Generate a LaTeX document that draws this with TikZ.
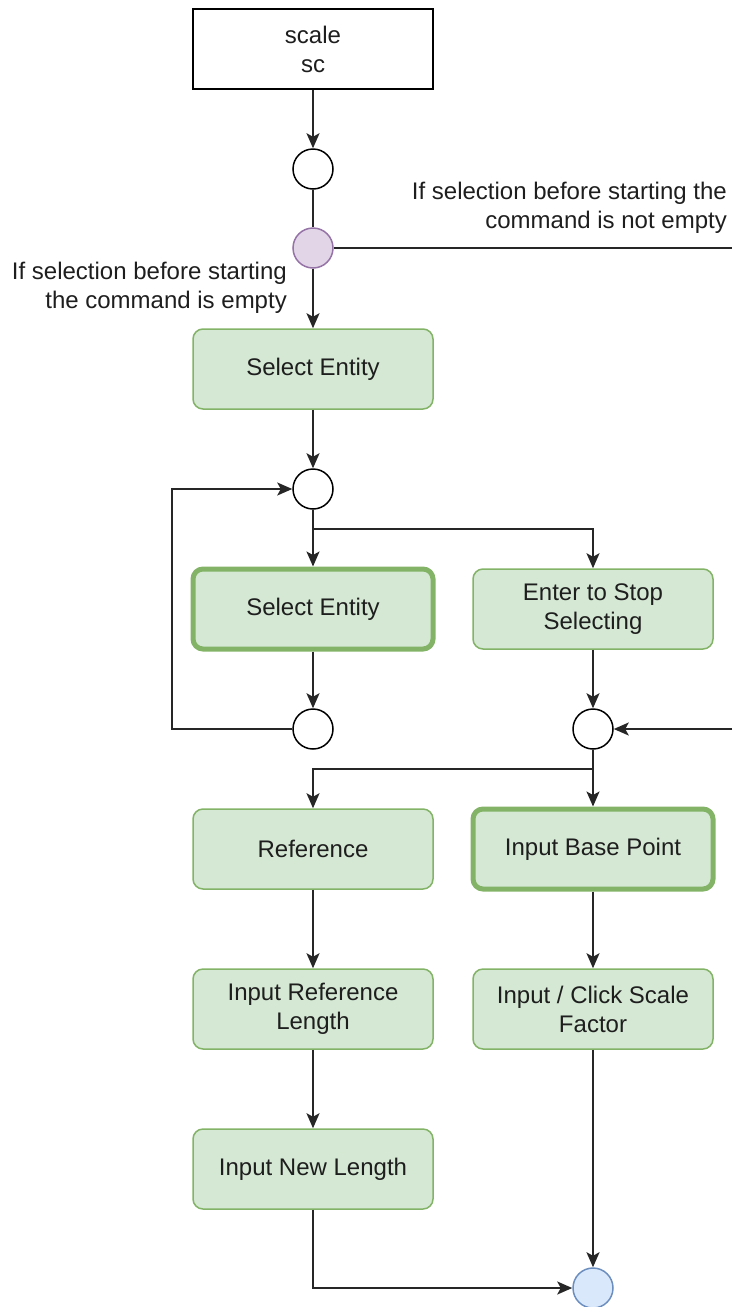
\documentclass[tikz,border=0pt]{standalone}
\usepackage{fontspec}
\setmainfont{Liberation Sans}
\usetikzlibrary{arrows.meta}
\definecolor{gfill}{HTML}{D5E8D4}
\definecolor{gdraw}{HTML}{82B366}
\definecolor{pfill}{HTML}{E1D5E7}
\definecolor{pdraw}{HTML}{9673A6}
\definecolor{bfill}{HTML}{DAE8FC}
\definecolor{bdraw}{HTML}{6C8EBF}
\definecolor{txt}{HTML}{1E1E1E}
\tikzset{
  every node/.style={font=\fontsize{24}{29}\selectfont, text=txt},
  startbox/.style={draw=black, line width=1.5pt, fill=white, minimum width=240pt, minimum height=80pt, align=center, inner sep=0pt},
  actbox/.style={draw=gdraw, line width=1.5pt, fill=gfill, rounded corners=10pt, minimum width=240pt, minimum height=80pt, align=center, inner sep=0pt},
  actthick/.style={actbox, line width=5pt},
  junc/.style={circle, draw=black, line width=1.5pt, fill=white, minimum size=40pt, inner sep=0pt},
  juncp/.style={junc, draw=pdraw, fill=pfill},
  juncb/.style={junc, draw=bdraw, fill=bfill},
  conn/.style={draw=black!85, line width=1.8pt},
  arr/.style={conn, -{Stealth[length=15pt,width=13pt,inset=3.5pt]}},
  lbl/.style={align=right, inner sep=0pt}
}
\begin{document}
\begin{tikzpicture}[x=1pt,y=1pt]
\useasboundingbox (0,0) rectangle (732,-1307);
% nodes
\node[startbox] (start) at (313,-49) {scale\\sc};
\node[junc] (c1) at (313,-169) {};
\node[juncp] (cp) at (313,-248) {};
\node[lbl, anchor=east] (lnot) at (727,-208) {If selection before starting the\\command is not empty};
\node[lbl, anchor=east] (lemp) at (287,-288) {If selection before starting\\the command is empty};
\node[actbox] (se1) at (313,-369) {Select Entity};
\node[junc] (c2) at (313,-489) {};
\node[actthick] (se2) at (313,-609) {Select Entity};
\node[actbox] (es) at (593,-609) {Enter to Stop\\Selecting};
\node[junc] (c3) at (313,-729) {};
\node[junc] (c4) at (593,-729) {};
\node[actbox] (ref) at (313,-849) {Reference};
\node[actthick] (ibp) at (593,-849) {Input Base Point\vphantom{I}};
\node[actbox] (irl) at (313,-1009) {Input Reference\\Length};
\node[actbox] (isf) at (593,-1009) {Input / Click Scale\\Factor};
\node[actbox] (inl) at (313,-1169) {Input New Length};
\node[juncb] (fin) at (593,-1288) {};
\coordinate (rtop) at (732,-248);
\coordinate (rmid) at (732,-729);
% connectors
\draw[arr] (start) -- (c1);
\draw[conn] (c1) -- (cp);
\draw[conn] (cp) -- (rtop);
\draw[arr] (cp) -- (se1);
\draw[arr] (se1) -- (c2);
\draw[arr] (c2) -- (se2);
\draw[arr] (c2.south) -- (313,-529) -| (es.north);
\draw[arr] (se2) -- (c3);
\draw[arr] (es) -- (c4);
\draw[arr] (c3.west) -- (172,-729) |- (c2.west);
\draw[arr] (rmid) -- (c4.east);
\draw[arr] (c4.south) -- (593,-769) -| (ref.north);
\draw[arr] (c4) -- (ibp);
\draw[arr] (ref) -- (irl);
\draw[arr] (irl) -- (inl);
\draw[arr] (ibp) -- (isf);
\draw[arr] (isf) -- (fin);
\draw[arr] (inl.south) |- (fin.west);
\end{tikzpicture}
\end{document}
